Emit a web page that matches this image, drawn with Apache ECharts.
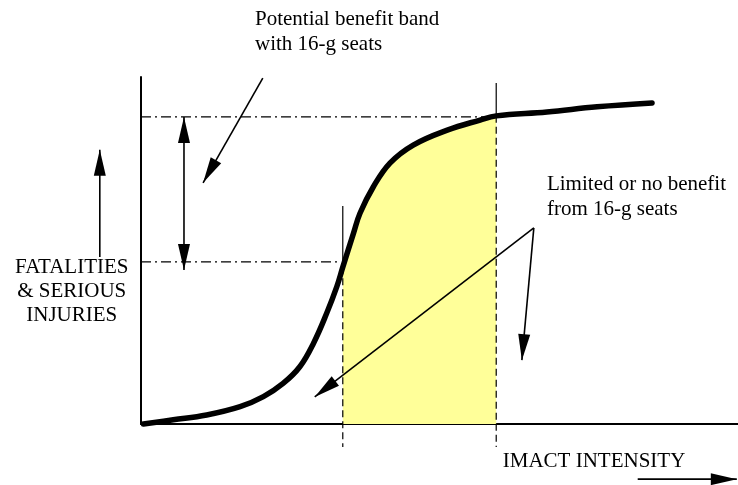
<!DOCTYPE html>
<html><head><meta charset="utf-8">
<script src="https://cdn.jsdelivr.net/npm/echarts@6/dist/echarts.min.js"></script>
<style>html,body{margin:0;padding:0;background:#fff}#c{width:738px;height:485px}</style>
</head><body><div id="c"></div><script>
// S-curve: impact intensity (x) vs fatalities & serious injuries (y), arbitrary 0-100 units
const curveX = [0.4, 5.4, 11.0, 16.6, 20.5, 23.8, 26.6, 28.9, 31.1, 32.8, 33.8, 35.6, 36.7, 38.9, 41.7, 45.6, 51.3, 56.8, 59.5, 68.0, 76.4, 85.6];
const curveY = [0.0, 1.2, 2.6, 5.0, 7.9, 11.7, 16.5, 23.3, 31.9, 39.6, 45.2, 55.0, 60.8, 68.3, 75.2, 80.4, 84.7, 87.6, 88.8, 89.9, 91.4, 92.5];
// benefit band limits (x) and matching injury levels (y)
const bandX = [33.8, 59.5];
const levelY = [46.7, 88.5];
const bandTopY = [62.8, 98.3];   // top of the solid marker lines
const belowAxisY = -6.6;          // dashed lines run below the axis
// annotation arrows
const arrowFrom = [[20.4, 99.7], [7.2, 88.5], [65.8, 56.5], [65.8, 56.5], [-6.9, 48.1], [83.2, -15.9]];
const arrowTo   = [[10.4, 69.5], [7.2, 44.4], [29.1, 7.8], [63.8, 18.4], [-6.9, 79.0], [99.8, -15.9]];
const arrowBoth = [0, 1, 0, 0, 0, 0];
// annotation texts
const labelText = ['Potential benefit band', 'with 16-g seats', 'Limited or no benefit', 'from 16-g seats',
  'IMACT INTENSITY', 'FATALITIES', '& SERIOUS', 'INJURIES'];
const labelX = [19.1, 19.1, 68.0, 68.0, 60.6, -11.6, -11.6, -11.6];
const labelY = [116.7, 109.5, 68.9, 61.7, -10.7, 45.2, 38.3, 31.4];
const labelAlign = ['left', 'left', 'left', 'left', 'left', 'center', 'center', 'center'];

const curve = curveX.map((x, i) => [x, curveY[i]]);
const bandFill = curve.filter(p => p[0] >= bandX[0] - 1e-6 && p[0] <= bandX[1] + 1e-6);
const yAt = x => curveY[curveX.indexOf(x)];

const seg = (data, type, z) => ({
  type: 'line', data, symbol: 'none', clip: false, silent: true, z: z || 3,
  lineStyle: { color: '#000', width: 1.2, type: type }
});

const chart = echarts.init(document.getElementById('c'), null, { renderer: 'canvas' });
chart.setOption({
  animation: false,
  backgroundColor: '#fff',
  grid: { left: 141, right: 0, top: 77, bottom: 61 },
  xAxis: { type: 'value', min: 0, max: 100, axisLine: { show: true, onZero: false, lineStyle: { color: '#000', width: 2 } },
    axisTick: { show: false }, axisLabel: { show: false }, splitLine: { show: false } },
  yAxis: { type: 'value', min: 0, max: 100, axisLine: { show: true, onZero: false, lineStyle: { color: '#000', width: 2 } },
    axisTick: { show: false }, axisLabel: { show: false }, splitLine: { show: false } },
  series: [
    { type: 'line', data: bandFill, symbol: 'none', smooth: 0.4, silent: true, z: 1,
      lineStyle: { width: 0 }, areaStyle: { color: '#FFFF99', opacity: 1 } },
    seg([[bandX[0], bandTopY[0]], [bandX[0], yAt(bandX[0])]], 'solid'),
    seg([[bandX[0], yAt(bandX[0])], [bandX[0], belowAxisY]], [7, 4]),
    seg([[bandX[1], bandTopY[1]], [bandX[1], yAt(bandX[1])]], 'solid'),
    seg([[bandX[1], yAt(bandX[1])], [bandX[1], belowAxisY]], [7, 4]),
    seg([[0, levelY[1]], [bandX[1], levelY[1]]], [10, 4, 2, 4]),
    seg([[0, levelY[0]], [bandX[0] - 0.5, levelY[0]]], [10, 4, 2, 4]),
    { type: 'line', data: curve, symbol: 'none', smooth: 0.4, clip: false, silent: true, z: 5,
      lineStyle: { color: '#000', width: 5.5, cap: 'round', join: 'round' } },
    { type: 'custom', clip: false, silent: true, z: 6,
      data: arrowFrom.map((p, i) => [p[0], p[1], arrowTo[i][0], arrowTo[i][1], arrowBoth[i]]),
      encode: { x: [0, 2], y: [1, 3] },
      renderItem: function (params, api) {
        const a = api.coord([api.value(0), api.value(1)]);
        const b = api.coord([api.value(2), api.value(3)]);
        const both = api.value(4);
        const L = 26, W = 12;
        function head(from, tip) {
          const dx = tip[0] - from[0], dy = tip[1] - from[1];
          const len = Math.hypot(dx, dy), ux = dx / len, uy = dy / len;
          const bx = tip[0] - ux * L, by = tip[1] - uy * L;
          return { type: 'polygon', shape: { points: [tip, [bx - uy * W / 2, by + ux * W / 2], [bx + uy * W / 2, by - ux * W / 2]] },
            style: { fill: '#000' } };
        }
        const children = [{ type: 'line', shape: { x1: a[0], y1: a[1], x2: b[0], y2: b[1] }, style: { stroke: '#000', lineWidth: 1.6 } }, head(a, b)];
        if (both) children.push(head(b, a));
        return { type: 'group', children };
      } },
    { type: 'custom', clip: false, silent: true, z: 7,
      data: labelX.map((x, i) => [x, labelY[i]]),
      encode: { x: 0, y: 1 },
      renderItem: function (params, api) {
        const p = api.coord([api.value(0), api.value(1)]);
        const i = params.dataIndex;
        return { type: 'text', x: p[0], y: p[1],
          style: { text: labelText[i], fill: '#000', font: '21px "Liberation Serif"', align: labelAlign[i], verticalAlign: 'middle' } };
      } }
  ]
});
</script></body></html>
